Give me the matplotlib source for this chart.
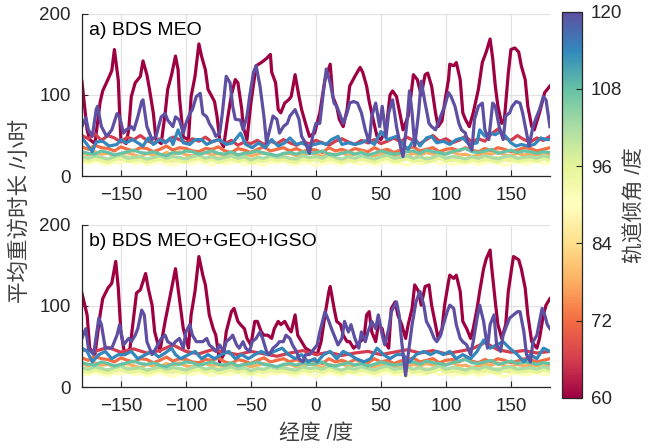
import numpy as np
import matplotlib
matplotlib.use("Agg")
import matplotlib.pyplot as plt
from matplotlib import cm, colors

plt.rcParams['font.family'] = ['Liberation Sans', 'Noto Sans CJK SC', 'DejaVu Sans']

# orbit inclinations (deg) -> one curve each
incl = [60, 66, 72, 78, 84, 90, 96, 102, 108, 114, 120]
lon10 = np.arange(-180, 181, 10)
lon5 = np.arange(-180, 181, 5)

# ---- panel a) BDS MEO ----
a60_lon = [-180, -176, -174, -170, -166, -164, -160, -157, -155, -152, -151, -150, -146, -144, -142, -139, -135,
           -133, -130, -128, -125, -123, -119, -116, -114, -111, -108, -106, -105, -102, -98, -96, -93, -90, -88,
           -85, -83, -80, -78, -76, -74, -71, -68, -65, -62, -60, -57, -56, -53, -50, -46, -42, -38, -35, -34,
           -31, -29, -27, -24, -21, -19, -16, -13, -11, -8, -5, -1, 3, 7, 11, 13, 16, 18, 21, 24, 26, 30, 34,
           36, 39, 41, 44, 47, 50, 54, 57, 59, 62, 65, 67, 71, 73, 75, 78, 81, 84, 86, 89, 92, 94, 97, 99, 102,
           103, 106, 108, 111, 113, 115, 118, 121, 125, 128, 131, 134, 136, 138, 140, 143, 145, 148, 150, 153,
           156, 158, 161, 163, 166, 168, 172, 176, 180]
a60_val = [117, 57, 45, 40, 91, 105, 119, 130, 156, 118, 78, 45, 40, 57, 98, 115, 123,
           142, 125, 107, 77, 45, 40, 77, 107, 125, 148, 131, 98, 48, 45, 98, 123, 163, 148,
           131, 107, 98, 92, 73, 45, 36, 70, 100, 119, 115, 82, 61, 45, 90, 136, 140, 145, 150, 128,
           115, 82, 78, 90, 94, 98, 125, 98, 82, 65, 49, 53, 78, 119, 138, 98, 86, 70, 61, 82, 111, 123, 134,
           128, 111, 92, 70, 49, 45, 57, 100, 105, 98, 74, 57, 74, 98, 125, 119, 100, 125, 127, 111, 78, 61, 68, 90, 119,
           138, 136, 140, 119, 78, 70, 61, 78, 107, 140, 153, 169, 145, 111, 86, 65, 70, 127, 156, 158,
           153, 136, 119, 86, 61, 57, 78, 103, 111]

a120_lon = [-180, -177, -175, -172, -169, -168, -165, -161, -157, -153, -151, -148, -146, -142, -140, -137, -134,
            -133, -130, -126, -123, -119, -116, -114, -110, -108, -105, -102, -100, -97, -95, -92, -89, -87, -84,
            -82, -79, -77, -74, -72, -69, -66, -64, -62, -58, -56, -53, -51, -48, -46, -43, -40, -38, -35, -33,
            -30, -28, -25, -22, -20, -16, -13, -11, -8, -5, -2, 0, 3, 6, 8, 11, 14, 16, 18, 21, 24, 26, 29, 32,
            35, 38, 41, 43, 46, 49, 51, 54, 56, 59, 62, 65, 67, 70, 72, 74, 76, 79, 81, 84, 87, 89, 92, 94, 97,
            99, 102, 104, 107, 110, 112, 115, 117, 120, 122, 125, 128, 130, 133, 136, 138, 141, 144, 146, 149,
            151, 154, 157, 159, 162, 164, 167, 169, 172, 175, 177, 180]
a120_val = [61, 72, 57, 49, 82, 86, 61, 49, 57, 77, 73, 53, 57, 61, 57, 73, 92,
            94, 61, 45, 49, 73, 77, 69, 61, 73, 69, 53, 65, 77, 82, 98, 102, 77, 73,
            65, 57, 49, 53, 77, 123, 115, 86, 70, 69, 57, 74, 98, 128, 136, 111, 74, 41, 61, 74,
            70, 53, 61, 65, 74, 82, 70, 49, 41, 28, 53, 65, 65, 107, 132, 115, 90, 86, 78, 65, 78, 90, 92, 90,
            78, 57, 41, 74, 90, 61, 86, 49, 78, 94, 61, 37, 24, 65, 105, 78, 37, 78, 117, 90, 65, 61, 57, 65, 78,
            86, 103, 98, 86, 65, 57, 53, 41, 32, 70, 86, 90, 57, 45, 90, 86, 61, 45, 74, 78,
            86, 92, 90, 78, 53, 37, 61, 70, 82, 98, 94, 61]

a114_lon = [-180, -176, -172, -169, -164, -159, -153, -150, -146, -141, -137, -133, -129, -125, -120, -116, -112,
            -110, -106, -102, -97, -93, -88, -84, -79, -74, -69, -64, -58, -54, -49, -44, -39, -34, -29, -24,
            -20, -15, -11, -6, -1, 4, 8, 12, 17, 20, 25, 30, 35, 40, 45, 50, 55, 62, 67, 71, 76, 80, 85, 89, 93,
            98, 103, 108, 113, 118, 124, 126, 130, 134, 138, 142, 146, 150, 154, 158, 163, 168, 173, 177, 180]
a114_val = [47, 39, 30, 42, 43, 37, 39, 45, 41, 45, 41, 37, 47, 39, 45, 41, 47,
            39, 57, 41, 39, 45, 45, 39, 43, 45, 39, 41, 53, 39, 35, 41, 35, 45, 37, 41,
            47, 39, 41, 37, 39, 41, 39, 45, 49, 39, 41, 39, 41, 45, 39, 55, 45, 49, 39, 33, 47, 37, 47, 49, 41,
            43, 39, 45, 47, 39, 41, 57, 49, 53, 51, 55, 49, 41, 37, 39, 37, 39, 47, 45, 45]

a66 = [50, 46, 52, 44, 50, 47, 42, 48, 45, 50, 44, 40, 46, 42, 48, 45, 41, 46, 43, 48, 42, 45, 40, 44, 38,
       42, 40, 44, 39, 43, 40, 45, 41, 38, 42, 40, 44, 41, 38, 43, 46, 42, 39, 44, 41, 45, 40, 43, 47, 42,
       48, 44, 40, 45, 50, 43, 46, 41, 44, 49, 42, 46, 43, 52, 58, 47, 44, 50, 45, 42, 47, 44, 49]

# pale curves (5 deg samples), shared by both panels
c72 = [36, 33, 38, 35, 34, 31, 36, 33, 31, 35, 34, 30, 33, 37, 32, 35, 34, 31, 30, 34,
       33, 36, 31, 29, 34, 32, 29, 33, 36, 31, 33, 35, 31, 34, 30, 33, 32, 29, 35, 31,
       33, 30, 34, 32, 30, 35, 31, 33, 29, 32, 34, 36, 31, 33, 35, 30, 33, 34, 31, 35,
       32, 30, 34, 31, 35, 33, 30, 32, 35, 34, 31, 33, 35]
c78 = [29, 26, 30, 27, 28, 25, 27, 29, 26, 24, 28, 26, 25, 29, 27, 30, 26, 25, 27, 29,
       26, 28, 24, 27, 26, 28, 25, 27, 29, 26, 24, 27, 28, 25, 26, 29, 27, 24, 28, 26,
       29, 25, 27, 30, 26, 25, 28, 26, 24, 27, 25, 28, 26, 29, 27, 25, 28, 30, 26, 27,
       24, 26, 28, 27, 30, 26, 25, 28, 26, 27, 25, 26, 27]
c84 = [22, 20, 23, 21, 19, 22, 21, 24, 20, 22, 19, 21, 23, 20, 18, 22, 21, 23, 19, 20,
       22, 24, 20, 21, 19, 22, 20, 23, 21, 18, 20, 22, 19, 21, 23, 20, 22, 18, 21, 22,
       19, 23, 21, 20, 22, 19, 21, 23, 20, 18, 22, 21, 19, 23, 20, 22, 21, 19, 24, 21,
       20, 22, 19, 21, 23, 20, 19, 22, 21, 20, 23, 21, 22]
c90 = [17, 15, 18, 16, 14, 17, 16, 19, 15, 17, 14, 16, 18, 15, 13, 16, 17, 15, 18, 16,
       14, 17, 15, 16, 18, 14, 16, 15, 13, 17, 16, 18, 15, 14, 17, 16, 13, 15, 17, 16,
       14, 18, 16, 15, 17, 14, 16, 18, 15, 16, 13, 17, 15, 16, 19, 15, 17, 14, 16, 15,
       17, 14, 16, 18, 15, 13, 16, 17, 15, 16, 18, 15, 17]
c96 = [20, 18, 21, 19, 17, 20, 22, 18, 19, 20, 17, 19, 21, 18, 20, 19, 17, 20, 22, 18,
       20, 17, 19, 21, 18, 20, 16, 19, 18, 21, 19, 20, 18, 17, 21, 19, 20, 18, 22, 19,
       17, 20, 18, 21, 19, 17, 20, 22, 18, 19, 21, 18, 20, 17, 19, 22, 18, 20, 19, 17,
       20, 18, 21, 19, 17, 20, 21, 18, 19, 20, 18, 21, 19]
c102 = [24, 22, 25, 23, 21, 24, 26, 22, 23, 24, 21, 23, 25, 22, 24, 23, 21, 24, 26, 22,
        24, 21, 23, 25, 22, 24, 20, 23, 22, 25, 23, 24, 22, 21, 25, 23, 24, 22, 26, 23,
        21, 24, 22, 25, 23, 21, 24, 26, 22, 23, 25, 22, 24, 21, 23, 26, 22, 24, 23, 21,
        24, 22, 25, 23, 21, 24, 25, 22, 23, 24, 22, 25, 23]
c108 = [30, 28, 27, 31, 29, 26, 28, 30, 32, 29, 28, 30, 27, 25, 29, 28, 31, 30, 27, 29,
        31, 28, 27, 30, 26, 28, 29, 31, 28, 27, 25, 28, 29, 27, 30, 28, 29, 31, 27, 26,
        28, 30, 27, 29, 26, 28, 31, 29, 27, 28, 30, 31, 28, 32, 30, 29, 27, 30, 32, 34,
        30, 29, 31, 33, 28, 30, 32, 29, 31, 30, 28, 30, 29]

# ---- panel b) BDS MEO+GEO+IGSO ----
b60_lon = [-180, -176, -174, -170, -166, -164, -160, -157, -154, -152, -150, -147, -143, -140, -138, -135, -131,
           -129, -126, -124, -120, -116, -114, -110, -108, -105, -102, -98, -96, -93, -90, -87, -85, -82, -79,
           -77, -74, -71, -69, -65, -63, -60, -58, -55, -53, -50, -47, -45, -42, -40, -37, -34, -32, -29, -27,
           -24, -21, -19, -16, -14, -11, -8, -4, -1, 1, 4, 7, 10, 11, 14, 16, 19, 21, 24, 26, 29, 32, 34, 37,
           39, 41, 43, 46, 48, 51, 53, 56, 58, 61, 63, 66, 69, 71, 74, 76, 79, 81, 84, 87, 89, 92, 94, 97, 99,
           102, 103, 106, 108, 111, 113, 116, 119, 121, 124, 126, 129, 131, 134, 135, 138, 140, 143, 146, 148,
           151, 152, 156, 158, 161, 163, 166, 170, 172, 175, 177, 180]
b60_val = [116, 89, 48, 40, 89, 109, 122, 128, 155, 122, 68, 40, 48, 89, 116, 120, 140,
           122, 101, 68, 44, 81, 97, 130, 146, 109, 72, 48, 89, 118, 161, 138, 126, 89, 72,
           64, 31, 40, 68, 93, 97, 81, 77, 72, 60, 52, 81, 81, 68, 64, 64, 60, 72, 81, 77,
           81, 72, 68, 89, 64, 56, 48, 44, 42, 40, 56, 89, 118, 124, 97, 81, 77, 64, 56, 56, 48, 52, 56, 60,
           89, 93, 68, 56, 77, 72, 56, 48, 97, 105, 89, 77, 60, 77, 97, 126, 118, 101, 124, 126, 101, 77, 60, 72, 101,
           130, 138, 134, 138, 118, 81, 72, 60, 72, 97, 118, 146, 158, 169, 151, 105, 77, 60, 77, 118,
           151, 161, 157, 146, 122, 89, 56, 48, 60, 89, 101, 109]

b120_lon = [-180, -177, -175, -171, -167, -165, -162, -157, -153, -151, -148, -144, -142, -139, -137, -134, -132,
            -130, -126, -123, -119, -116, -114, -110, -108, -105, -102, -100, -97, -95, -92, -89, -87, -84, -82,
            -79, -77, -74, -71, -69, -66, -64, -61, -59, -56, -54, -51, -49, -46, -43, -41, -38, -36, -33, -30,
            -28, -25, -23, -20, -18, -15, -13, -10, -8, -5, -2, 1, 3, 7, 10, 12, 15, 17, 20, 22, 25, 27, 30, 33,
            35, 38, 40, 43, 46, 48, 51, 53, 56, 58, 62, 64, 66, 69, 71, 74, 77, 80, 83, 85, 88, 91, 93, 96, 98,
            101, 103, 106, 108, 111, 113, 116, 119, 121, 124, 126, 129, 132, 134, 137, 139, 142, 144, 147, 149,
            152, 155, 157, 160, 162, 165, 167, 170, 174, 176, 178, 180]
b120_val = [60, 72, 48, 40, 85, 77, 48, 48, 64, 77, 52, 60, 56, 64, 72, 95, 89,
            56, 40, 48, 60, 64, 56, 52, 56, 60, 48, 68, 77, 64, 56, 56, 56, 60, 52,
            48, 44, 52, 44, 56, 60, 64, 52, 48, 56, 48, 44, 56, 60, 68, 60, 44, 40, 48, 52,
            56, 56, 64, 60, 52, 44, 35, 31, 40, 40, 46, 52, 68, 93, 81, 72, 60, 52, 60, 81, 68, 77, 60, 48,
            68, 56, 68, 81, 72, 89, 64, 52, 72, 93, 105, 89, 56, 14, 40, 77, 105, 118, 101, 81, 72, 60, 56, 64, 77,
            93, 101, 97, 77, 60, 56, 52, 40, 56, 85, 101, 81, 48, 77, 89, 52, 44, 64, 77, 85,
            89, 93, 93, 68, 40, 31, 56, 64, 97, 89, 77, 72]

b114_lon = [-180, -176, -172, -167, -162, -157, -152, -147, -142, -137, -131, -126, -121, -116, -111, -108, -104,
            -98, -93, -88, -83, -78, -73, -67, -62, -57, -52, -47, -42, -37, -32, -26, -21, -16, -11, -6, -1, 1,
            6, 11, 16, 21, 26, 31, 37, 42, 47, 52, 57, 62, 67, 72, 77, 83, 88, 93, 98, 103, 108, 113, 119, 124,
            129, 134, 139, 144, 149, 155, 160, 165, 170, 175, 180]
b114_val = [48, 44, 31, 40, 44, 35, 40, 40, 44, 35, 40, 44, 37, 42, 48, 40, 35,
            40, 44, 35, 40, 35, 40, 44, 35, 40, 35, 40, 44, 40, 44, 48, 40, 35, 40, 31, 35, 31,
            40, 44, 35, 44, 40, 35, 31, 35, 48, 40, 35, 40, 40, 31, 40, 44, 40, 44, 40, 44, 35, 40, 35, 44,
            58, 48, 52, 56, 48, 40, 31, 40, 35, 48, 44]

b66 = [46, 44, 49, 43, 47, 42, 45, 52, 44, 41, 46, 43, 40, 44, 41, 38, 42, 45, 40, 43, 39, 42, 44, 40, 43,
       46, 42, 45, 41, 44, 47, 55, 46, 43, 45, 42, 44]

panels = [
    ('a) BDS MEO', (a60_lon, a60_val), (lon5, a66), (a114_lon, a114_val), (a120_lon, a120_val)),
    ('b) BDS MEO+GEO+IGSO', (b60_lon, b60_val), (lon10, b66), (b114_lon, b114_val), (b120_lon, b120_val)),
]

norm = colors.Normalize(vmin=60, vmax=120)
cmap = plt.get_cmap('Spectral')

fig = plt.figure(figsize=(6.5, 4.48), dpi=100)
ax_pos = [[0.126, 0.607, 0.72, 0.362], [0.126, 0.136, 0.72, 0.362]]
txt = '#262626'

for pos, (title, l60, l66, l114, l120) in zip(ax_pos, panels):
    ax = fig.add_axes(pos)
    curves = [l60, l66, (lon5, c72), (lon5, c78), (lon5, c84), (lon5, c90),
              (lon5, c96), (lon5, c102), (lon5, c108), l114, l120]
    for inc, (x, y) in zip(incl, curves):
        ax.plot(x, y, color=cmap(norm(inc)), lw=2.3, solid_joinstyle='round')
    ax.set_xlim(-180, 180)
    ax.set_ylim(0, 200)
    ax.set_xticks([-150, -100, -50, 0, 50, 100, 150])
    ax.set_yticks([0, 100, 200])
    ax.grid(True, color='#e3e3e3', lw=0.9)
    ax.set_axisbelow(True)
    for s in ['top', 'right']:
        ax.spines[s].set_visible(False)
    for s in ['left', 'bottom']:
        ax.spines[s].set_color(txt)
        ax.spines[s].set_linewidth(0.9)
    ax.tick_params(direction='in', length=4, labelsize=13.5, colors=txt, pad=8)
    ax.text(0.015, 0.9, title, transform=ax.transAxes, fontsize=14, color='black', va='center')

cax = fig.add_axes([0.864, 0.112, 0.032, 0.862])
sm = cm.ScalarMappable(norm=norm, cmap=cmap)
cb = fig.colorbar(sm, cax=cax, ticks=[60, 72, 84, 96, 108, 120])
cb.outline.set_edgecolor(txt)
cb.outline.set_linewidth(0.9)
cax.tick_params(direction='in', length=4, labelsize=13.5, colors=txt, pad=6)
cb.set_label('轨道倾角 /度', fontsize=15, color='#404040', labelpad=2, fontweight='light')

fig.text(0.031, 0.529, '平均重访时长 /小时', rotation=90, fontsize=15.5, color='#404040',
         ha='center', va='center', fontweight='light')
fig.text(0.486, 0.033, '经度 /度', fontsize=15, color='#404040', ha='center', va='center',
         fontweight='light')

fig.savefig('out.png', dpi=100)
